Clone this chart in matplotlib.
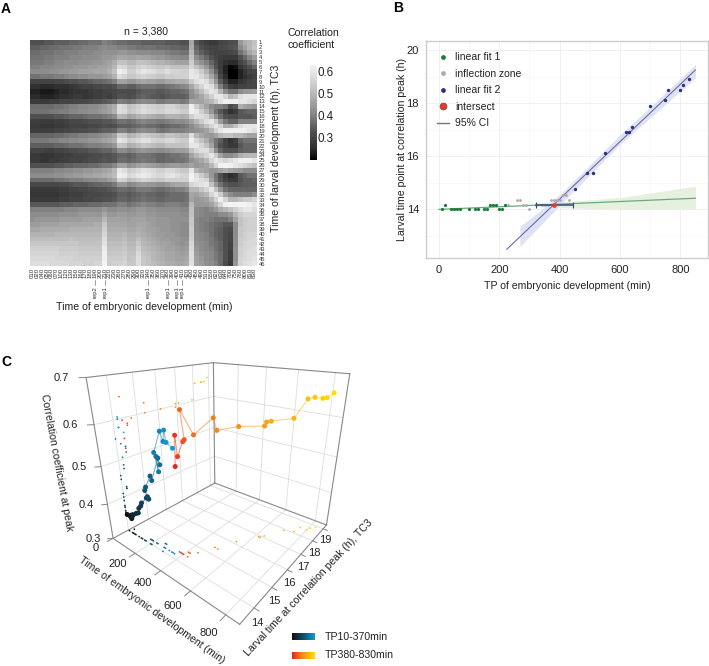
import matplotlib
matplotlib.use('Agg')
import matplotlib.pyplot as plt
from matplotlib.colors import LinearSegmentedColormap
from matplotlib.lines import Line2D
from mpl_toolkits.mplot3d import proj3d
import numpy as np

plt.rcParams['font.family'] = ['Liberation Sans', 'DejaVu Sans']

W, H = 709, 666

# time points shared by all panels
tp_early = [10, 20, 40, 50, 60, 70, 100, 120, 130, 150, 160, 170, 180, 190, 200, 210, 220,
            230, 260, 270, 280, 290, 300, 320, 340, 350, 360, 370]
tp_late = [380, 390, 400, 410, 420, 430, 450, 490, 510, 550, 620, 630, 640, 700, 750, 760,
           800, 810, 830]

# larval time at the correlation peak
peak_early = [14, 14.18, 14, 14, 14, 14, 14, 14, 14, 14, 14, 14.18, 14.18, 14.18, 14, 14, 14.18,
              14.18, 14.36, 14.36, 14.18, 14.18, 14, 14.18, 14.18, 14.18, 14.18, 14.36]
peak_late = [14.36, 14.36, 14.36, 14.55, 14.55, 14.36, 14.75, 15.36, 15.36, 16.13, 16.92, 16.92,
             17.1, 17.9, 18.1, 18.5, 18.5, 18.7, 18.9]

# correlation value at the peak
corr_early = [.35, .345, .35, .345, .355, .36, .37, .375, .39, .40, .41, .42, .425, .42, .45,
              .46, .485, .475, .53, .515, .54, .505, .555, .60, .58, .605, .58, .565]
corr_late = [.525, .595, .55, .58, .585, .65, .595, .625, .60, .60, .595, .605, .605, .605, .65,
             .65, .65, .65, .66]

# panel A, correlation in percent, larval rows by embryonic columns
heat = [
    [33,33,33,34,34,35,35,35,36,36,37,37,38,38,38,40,39,38,37,37,36,36,36,35,35,35,35,35,34,34,34,33,33,47,34,31,29,28,28,30,31,32,33,44,48,50,52],
    [35,35,36,36,37,37,38,38,38,39,39,40,40,40,41,42,41,41,40,40,39,39,38,38,38,38,37,37,37,36,36,35,35,48,36,33,31,30,30,31,32,33,34,42,46,50,53],
    [37,37,38,38,38,39,39,40,40,40,41,41,41,42,42,43,43,43,44,44,43,43,42,42,42,41,41,41,40,39,39,38,38,50,38,35,33,31,30,30,30,31,32,38,42,47,50],
    [38,38,38,39,39,40,40,40,41,41,41,42,42,42,43,44,44,45,47,47,46,46,47,46,46,45,44,44,43,42,42,41,41,52,42,39,36,33,31,29,28,28,28,33,37,41,45],
    [39,39,39,40,40,41,41,42,42,42,43,43,43,44,44,45,46,48,52,52,50,50,52,52,51,50,49,49,48,47,46,46,46,54,46,43,40,36,32,28,26,25,25,30,33,37,40],
    [40,40,41,41,41,42,42,43,43,44,44,44,45,45,46,46,47,50,57,56,53,53,55,56,55,54,53,53,54,52,52,52,52,56,52,48,44,39,33,28,24,21,22,27,30,33,36],
    [42,42,42,42,43,43,44,44,45,45,46,46,46,47,47,47,49,52,62,60,55,55,58,60,59,58,56,56,58,56,56,55,55,60,58,54,49,43,36,29,24,18,19,24,27,30,31],
    [38,38,39,39,39,40,40,41,42,42,43,43,44,44,44,45,46,49,58,56,53,53,55,56,55,54,53,53,55,54,55,55,55,60,60,57,53,47,40,31,25,19,20,24,26,28,30],
    [30,30,30,30,30,31,31,32,33,33,34,34,35,36,36,37,38,40,46,46,44,44,46,47,46,46,45,45,47,47,48,48,49,54,58,60,58,52,44,35,29,24,24,27,28,30,31],
    [26,26,25,25,25,26,26,26,27,28,29,30,30,31,31,32,32,33,36,36,35,35,37,38,38,38,37,37,38,39,40,41,42,47,52,56,60,58,50,40,34,29,28,30,30,31,31],
    [24,24,23,23,23,24,25,25,26,27,27,27,28,29,29,30,30,31,32,32,32,32,34,35,35,35,34,34,35,36,36,37,38,43,47,51,56,60,58,50,42,38,38,42,44,44,45],
    [25,25,24,24,24,25,26,26,27,28,28,27,28,29,29,30,29,31,33,33,32,33,35,36,35,34,34,33,34,35,35,35,36,42,44,47,51,55,60,60,56,50,52,58,60,60,60],
    [28,28,28,28,29,29,30,30,30,31,31,31,32,33,33,34,35,36,40,39,38,39,41,42,41,41,39,39,40,40,40,39,40,47,46,46,48,50,54,59,62,62,62,60,60,58,56],
    [37,37,37,37,37,38,38,39,40,40,41,41,42,42,43,44,46,48,58,56,52,53,55,57,56,55,54,54,56,56,54,52,52,62,55,50,46,42,40,40,38,32,34,48,46,45,44],
    [38,38,38,38,39,39,40,40,41,41,42,42,43,43,44,45,46,49,58,57,53,54,56,58,57,56,55,55,57,57,56,54,54,62,60,55,50,44,38,34,30,26,28,34,35,36,36],
    [33,33,33,33,33,34,34,35,36,36,36,37,38,38,38,39,40,42,50,49,46,47,49,50,49,48,47,47,49,49,49,48,49,55,58,58,56,50,43,37,33,32,32,34,34,34,35],
    [29,29,28,28,28,29,29,30,31,31,31,32,33,33,33,34,34,35,38,38,37,38,40,41,40,40,39,39,40,41,42,42,43,46,50,54,58,60,54,45,39,36,36,40,40,40,40],
    [28,28,27,27,27,28,28,29,30,30,30,30,31,31,32,33,32,33,35,35,35,36,37,38,37,37,36,35,36,37,37,38,39,42,45,48,52,56,60,56,48,48,52,58,60,60,60],
    [29,29,29,29,29,30,30,31,31,32,32,32,33,33,34,35,35,36,40,40,38,39,41,42,41,41,39,38,39,40,40,40,41,42,43,44,46,50,56,60,62,62,62,62,62,60,58],
    [36,36,36,36,36,37,37,38,39,39,40,40,41,41,42,43,44,46,54,53,49,50,52,54,53,52,51,50,52,52,51,50,50,58,50,47,45,44,46,50,52,52,50,50,48,46,46],
    [39,39,39,39,40,40,41,41,42,42,43,43,44,44,45,46,47,49,60,58,54,55,57,59,58,56,55,55,57,57,55,54,54,62,56,52,48,43,38,35,30,27,29,36,38,38,38],
    [35,35,35,35,35,36,36,37,38,38,38,39,40,40,40,41,42,44,53,52,48,49,51,53,52,51,50,50,52,52,52,52,53,60,60,56,52,46,38,33,30,28,28,34,36,36,36],
    [30,30,30,29,29,30,30,31,32,32,33,33,34,34,35,36,36,38,42,42,40,41,43,44,43,43,42,42,43,44,45,45,46,52,56,58,58,52,42,36,33,33,33,35,36,36,36],
    [28,28,27,27,27,28,28,29,29,30,30,30,31,32,32,33,33,34,36,36,35,36,38,38,38,37,36,36,37,38,38,39,40,46,50,53,56,60,54,46,42,42,44,48,50,50,50],
    [28,28,27,27,28,28,29,29,30,30,30,31,32,32,33,34,33,34,37,37,36,37,38,39,38,38,36,36,37,37,38,38,39,43,45,47,50,56,60,58,56,58,60,62,62,62,60],
    [33,33,33,33,33,34,34,35,35,36,36,36,37,37,38,39,39,41,46,46,43,44,46,47,46,45,44,43,44,45,45,44,44,46,44,45,46,50,56,62,64,62,60,58,56,54,52],
    [40,40,40,40,40,41,41,42,42,43,43,44,44,45,45,46,47,50,60,58,54,55,57,59,58,57,55,55,57,57,55,53,53,60,50,47,46,44,44,46,48,46,45,44,42,42,42],
    [42,42,42,42,42,43,43,44,44,45,45,46,46,47,47,48,49,51,62,61,57,58,60,61,60,58,57,57,59,60,58,56,56,64,58,54,50,44,38,33,28,25,27,34,36,38,38],
    [37,37,37,37,37,38,38,39,40,40,40,41,42,42,43,43,45,47,56,55,51,52,54,56,55,54,53,53,55,55,55,55,55,62,60,58,56,46,39,34,30,28,28,33,35,35,36],
    [31,31,31,31,31,31,32,32,33,34,34,34,35,36,36,37,37,39,44,44,41,42,44,45,44,44,43,43,44,46,47,47,48,56,58,59,60,52,44,38,34,33,33,34,35,35,35],
    [28,28,28,28,28,28,29,29,30,30,31,31,32,32,33,33,34,35,37,37,36,37,39,39,39,38,37,37,38,39,40,40,42,50,50,53,56,60,52,44,38,36,36,36,36,36,36],
    [27,27,27,27,27,27,28,28,29,29,29,30,31,31,31,32,32,33,35,35,34,35,36,37,36,36,35,35,36,37,37,37,38,47,46,48,50,56,60,54,46,42,40,40,40,40,42],
    [28,28,28,28,28,28,29,29,30,30,30,31,31,32,32,33,33,34,36,36,35,36,37,38,37,37,36,36,37,37,37,37,38,46,44,45,46,50,56,62,56,50,50,52,54,54,56],
    [34,34,34,34,34,34,35,35,35,36,36,36,37,37,37,38,38,38,40,40,38,39,40,41,40,40,39,39,40,40,40,39,39,50,44,44,44,46,50,56,62,64,64,64,64,62,60],
    [40,40,40,40,40,40,40,41,41,41,42,42,42,42,42,44,42,42,43,43,42,43,44,44,43,43,42,42,42,42,42,41,41,52,42,41,40,42,44,48,50,52,55,58,60,60,58],
    [42,42,42,42,42,42,43,43,43,43,44,44,44,44,44,47,44,44,45,45,44,44,45,45,44,44,43,43,43,43,43,42,42,52,42,41,40,40,40,42,42,44,50,54,56,56,56],
    [43,44,44,44,44,44,45,45,45,45,45,46,46,46,46,50,46,46,46,46,45,46,46,46,45,45,44,44,44,43,43,43,43,53,41,40,40,39,38,38,38,40,46,52,54,55,55],
    [45,45,46,46,46,46,47,47,47,47,47,47,47,48,48,53,47,47,47,47,46,46,47,47,46,45,44,44,44,43,43,42,42,53,41,40,39,38,37,36,34,34,42,52,54,55,55],
    [47,47,48,48,48,48,48,48,49,49,49,49,49,49,49,55,48,48,48,48,47,47,48,47,46,46,45,44,44,43,43,42,42,54,41,40,39,38,36,35,33,32,42,53,54,55,55],
    [49,49,49,49,49,50,50,50,50,50,50,50,50,50,50,56,49,49,49,50,48,48,49,48,47,46,45,45,44,44,43,42,42,54,42,41,40,38,36,35,33,31,42,53,55,56,56],
    [51,51,51,51,51,51,51,51,52,51,51,51,51,51,51,58,50,50,50,51,49,49,51,49,48,47,46,45,45,44,44,43,43,55,42,41,40,39,37,35,33,31,42,54,55,56,57],
    [53,53,53,53,53,53,53,53,53,53,52,52,52,52,52,59,51,51,51,52,50,50,53,50,49,48,47,46,46,45,44,43,44,56,43,42,41,39,38,36,33,30,42,54,56,57,57],
    [55,55,55,55,55,55,54,54,54,54,53,53,53,53,53,61,52,52,52,53,51,51,55,51,50,49,48,47,46,46,45,44,45,57,44,42,41,40,38,36,33,30,43,55,56,57,58],
    [56,56,56,56,56,56,55,55,55,55,54,54,54,54,54,62,53,53,53,54,52,52,57,52,51,50,49,48,47,47,46,45,46,58,45,43,42,41,39,37,33,29,43,55,57,58,58],
    [57,57,57,57,57,56,56,56,56,55,55,55,55,55,55,62,54,54,54,55,52,53,58,53,52,50,49,48,47,47,46,46,47,58,46,44,42,41,39,37,33,29,43,56,57,58,59],
    [58,58,58,58,57,57,57,57,56,56,56,55,55,56,56,63,54,55,55,56,53,53,58,53,52,51,50,49,48,48,47,47,48,59,46,45,43,42,40,37,32,28,44,56,58,59,60],
]
rep_cols = [13, 15, 24, 28, 30, 31]
rep_names = ['rep2', 'rep1', 'rep1', 'rep1', 'rep1', 'rep1']

# panel B fits and confidence bands
fit1_x = [0, 850]
fit1_y = [14.0, 14.42]
fit2_x = [225, 850]
fit2_y = [12.5, 19.25]
band1_x = [320, 440, 600, 850]
band1_lo = [14.1, 14.05, 14.0, 14.0]
band1_hi = [14.25, 14.3, 14.45, 14.87]
band2_x = [268, 400, 600, 850]
band2_lo = [12.6, 14.15, 16.45, 18.95]
band2_hi = [13.35, 14.55, 16.8, 19.45]
intersect = (380, 14.18)
ci_x = [320, 445]


def axes_px(x0, y0, x1, y1, **kw):
    # pixel box of the reference, y going down
    return fig.add_axes([x0 / W, 1 - y1 / H, (x1 - x0) / W, (y1 - y0) / H], **kw)


def text_px(x, y, s, **kw):
    return fig.text(x / W, 1 - y / H, s, **kw)


def label_3d(ax, x, y, z, s):
    # plain 2d text at the projected spot of a 3d point
    px, py, _ = proj3d.proj_transform(x, y, z, ax.get_proj())
    ax.text2D(px, py, s, transform=ax.transData, fontsize=8, ha='center', va='center', color='#222222')


fig = plt.figure(figsize=(W / 100, H / 100), dpi=100)

text_px(1, 9, 'A', fontsize=10, fontweight='bold', va='center')
text_px(393, 8, 'B', fontsize=10, fontweight='bold', va='center')
text_px(1, 362, 'C', fontsize=10, fontweight='bold', va='center')

# ---- panel A
heat_cmap = LinearSegmentedColormap.from_list('heat', [(0, '#000000'), (0.12, '#2e2e2e'), (0.3, '#505050'),
                                                       (0.5, '#8a8a8a'), (0.75, '#c4c4c4'), (1, '#f4f4f4')])
ax = axes_px(30, 40, 257, 266)
corr = np.array(heat) / 100
im = ax.imshow(corr, cmap=heat_cmap, vmin=0.2, vmax=0.63, aspect='auto', interpolation='nearest')
ax.set_xticks(range(corr.shape[1]))
ax.set_xticklabels(['%03d' % t for t in tp_early + tp_late], rotation=90, fontsize=4.4)
ax.set_yticks(range(corr.shape[0]))
ax.set_yticklabels([str(i + 1) for i in range(corr.shape[0])], fontsize=4.2)
ax.yaxis.tick_right()
ax.tick_params(length=0, pad=1, colors='#333333')
for s in ax.spines.values():
    s.set_visible(False)
for col, name in zip(rep_cols, rep_names):
    ax.plot([col, col], [-0.062, -0.084], color='#555555', lw=0.4,
            transform=ax.get_xaxis_transform(), clip_on=False)
    ax.text(col, -0.088, name, rotation=90, fontsize=4.2, ha='center', va='top',
            transform=ax.get_xaxis_transform(), color='#333333')
ax.set_xlim(-0.5, corr.shape[1] - 0.5)
ax.set_ylim(corr.shape[0] - 0.5, -0.5)

text_px(146, 31, 'n = 3,380', fontsize=7.6, ha='center', va='center', color='#222222')
text_px(144, 307, 'Time of embryonic development (min)', fontsize=7.6, ha='center', va='center',
        color='#222222')
text_px(276, 148, 'Time of larval development (h), TC3', fontsize=7.6, rotation=90, ha='center',
        va='center', color='#222222')
text_px(288, 39, 'Correlation\ncoefficient', fontsize=7.6, ha='left', va='center', color='#222222',
        linespacing=1.25)

cax = axes_px(310, 65, 316.5, 160)
cb = fig.colorbar(im, cax=cax)
cb.set_ticks([0.3, 0.4, 0.5, 0.6])
cb.ax.tick_params(length=0, labelsize=8.4, pad=1, labelcolor='#222222')
cb.outline.set_visible(False)

# ---- panel B
ax = axes_px(426, 40.7, 708.3, 258)
ax.fill_between(band1_x, band1_lo, band1_hi, color='#e6f0de', lw=0, zorder=1)
ax.fill_between(band2_x, band2_lo, band2_hi, color='#dfe2f2', lw=0, zorder=1.1)
ax.plot(fit1_x, fit1_y, color='#6fa97a', lw=0.9, zorder=2)
ax.plot(fit2_x, fit2_y, color='#6b6ca6', lw=0.8, zorder=2)

green_n = 17
inflect_n = 28 + 6 - green_n
tp_all = tp_early + tp_late
peak_all = peak_early + peak_late
ax.plot(tp_all[:green_n], peak_all[:green_n], ls='', marker='o', ms=1.3, color='#1c7a3e', zorder=3)
ax.plot(tp_all[green_n:green_n + inflect_n], peak_all[green_n:green_n + inflect_n], ls='', marker='o',
        ms=1.0, color='#aaaaaa', zorder=3)
ax.plot(tp_all[green_n + inflect_n:], peak_all[green_n + inflect_n:], ls='', marker='o', ms=1.4,
        color='#2b2f80', zorder=3)
ax.plot(ci_x, [intersect[1]] * 2, color='#2f4a8c', lw=1.1, zorder=4)
ax.plot(ci_x, [intersect[1]] * 2, ls='', marker='|', ms=4, mew=0.8, color='#2f4a8c', zorder=4)
ax.plot(*intersect, marker='o', ms=2.4, color='#e8392a', zorder=5)

ax.set_xlim(-43, 892.6)
ax.set_ylim(12.17, 20.35)
ax.set_xticks([0, 200, 400, 600, 800])
ax.set_yticks([14, 16, 18, 20])
ax.set_xticks([100, 300, 500, 700], minor=True)
ax.set_yticks([13, 15, 17, 19], minor=True)
ax.grid(True, which='major', color='#eeeeee', lw=0.6)
ax.grid(True, which='minor', color='#f5f5f5', lw=0.4)
ax.set_axisbelow(True)
ax.tick_params(which='both', length=0, labelsize=8, pad=5, labelcolor='#222222')
for s in ax.spines.values():
    s.set_color('#cccccc')
    s.set_linewidth(1.0)
ax.set_xlabel('TP of embryonic development (min)', fontsize=7.6, labelpad=4.5, color='#222222')
ax.set_ylabel('Larval time point at correlation peak (h)', fontsize=7.6, labelpad=0, color='#222222')
handles = [
    Line2D([], [], ls='', marker='o', ms=2.4, color='#1c7a3e'),
    Line2D([], [], ls='', marker='o', ms=2.4, color='#aaaaaa'),
    Line2D([], [], ls='', marker='o', ms=2.4, color='#2b2f80'),
    Line2D([], [], ls='', marker='o', ms=5, mfc='#e8392a', mec='#555555', mew=0.5),
    Line2D([], [], color='#777777', lw=1),
]
ax.legend(handles, ['linear fit 1', 'inflection zone', 'linear fit 2', 'intersect', '95% CI'],
          loc='upper left', bbox_to_anchor=(0.025, 0.965), frameon=False, fontsize=7.5, labelspacing=0.62,
          handlelength=1.1, handletextpad=0.6, borderaxespad=0, labelcolor='#222222')

# ---- panel C
x_lim = (0, 870)
y_lim = (13.3, 19.35)
z_lim = (0.3, 0.7)
x_ticks = [0, 200, 400, 600, 800]
y_ticks = [14, 15, 16, 17, 18, 19]
z_ticks = [0.3, 0.4, 0.5, 0.6, 0.7]

ax = axes_px(59, 306, 379, 626, projection='3d', computed_zorder=False)
ax.set_proj_type('persp', focal_length=0.18)
ax.view_init(elev=23, azim=-51)
ax.set_box_aspect((1, 1, 1.0), zoom=0.88)
ax.set_axis_off()
ax.patch.set_alpha(0)
ax.set_xlim(*x_lim)
ax.set_ylim(*y_lim)
ax.set_zlim(*z_lim)

grid_c = '#dddddd'
edge_c = '#888888'
for t in x_ticks[1:]:
    ax.plot([t, t], y_lim, [z_lim[0]] * 2, color=grid_c, lw=0.6)
    ax.plot([t, t], [y_lim[1]] * 2, z_lim, color=grid_c, lw=0.6)
for t in y_ticks:
    ax.plot(x_lim, [t, t], [z_lim[0]] * 2, color=grid_c, lw=0.6)
    ax.plot([0, 0], [t, t], z_lim, color=grid_c, lw=0.6)
for t in z_ticks[1:-1]:
    ax.plot([0, 0], y_lim, [t, t], color=grid_c, lw=0.6)
    ax.plot(x_lim, [y_lim[1]] * 2, [t, t], color=grid_c, lw=0.6)

# box edges
ax.plot(x_lim, [y_lim[0]] * 2, [z_lim[0]] * 2, color=edge_c, lw=0.8)
ax.plot([x_lim[1]] * 2, y_lim, [z_lim[0]] * 2, color=edge_c, lw=0.8)
ax.plot([0, 0], y_lim, [z_lim[0]] * 2, color=edge_c, lw=0.8)
ax.plot(x_lim, [y_lim[1]] * 2, [z_lim[0]] * 2, color=edge_c, lw=0.8)
ax.plot([0, 0], [y_lim[0]] * 2, z_lim, color=edge_c, lw=0.8)
ax.plot([0, 0], [y_lim[1]] * 2, z_lim, color=edge_c, lw=0.8)
ax.plot([x_lim[1]] * 2, [y_lim[1]] * 2, z_lim, color=edge_c, lw=0.8)
ax.plot([0, 0], y_lim, [z_lim[1]] * 2, color=edge_c, lw=0.8)
ax.plot(x_lim, [y_lim[1]] * 2, [z_lim[1]] * 2, color=edge_c, lw=0.8)

# tick marks and their labels
for t in x_ticks:
    ax.plot([t, t], [y_lim[0], y_lim[0] - 0.25], [z_lim[0]] * 2, color=edge_c, lw=0.7)
    label_3d(ax, t, y_lim[0] - 0.72, z_lim[0], str(t))
for t in y_ticks:
    ax.plot([x_lim[1], x_lim[1] + 25], [t, t], [z_lim[0]] * 2, color=edge_c, lw=0.7)
    label_3d(ax, x_lim[1] + 20, t, z_lim[0] - 0.032, str(t))
for t in z_ticks:
    ax.plot([0, -20], [y_lim[0], y_lim[0] - 0.15], [t, t], color=edge_c, lw=0.7)
    label_3d(ax, -80, y_lim[0] - 0.5, t, '%.1f' % t)

cmap_early = LinearSegmentedColormap.from_list('early', ['#111111', '#0f4f6e', '#129bd1'])
cmap_late = LinearSegmentedColormap.from_list('late', ['#e8261f', '#f7931e', '#ffdf00'])

for tp, peak, cz, cmap, in [(tp_early, peak_early, corr_early, cmap_early),
                            (tp_late, peak_late, corr_late, cmap_late)]:
    cols = [cmap(i / (len(tp) - 1)) for i in range(len(tp))]
    for i in range(len(tp) - 1):
        ax.plot(tp[i:i + 2], peak[i:i + 2], cz[i:i + 2], color=cols[i + 1], lw=0.8, alpha=0.55, zorder=4)
    ax.scatter(tp, peak, cz, c=cols, s=13, lw=0, depthshade=False, zorder=5)
    # shadows on the floor and on the left wall
    ax.scatter(tp, peak, [z_lim[0]] * len(tp), c=cols, s=1.6, lw=0, depthshade=False, zorder=3)
    ax.scatter([0] * len(tp), peak, cz, c=cols, s=1.6, lw=0, depthshade=False, zorder=3)

text_px(57, 463, 'Correlation coefficient at peak', fontsize=7.6, rotation=-79.5, ha='center',
        va='center', rotation_mode='anchor', color='#222222')
text_px(152, 610, 'Time of embryonic development (min)', fontsize=7.6, rotation=-35.5, ha='center',
        va='center', rotation_mode='anchor', color='#222222')
text_px(309, 588, 'Larval time at correlation peak (h), TC3', fontsize=7.6, rotation=47, ha='center',
        va='center', rotation_mode='anchor', color='#222222')

# gradient keys
ramp = np.linspace(0, 1, 64).reshape(1, -1)
for y0, cmap, label in [(633, cmap_early, 'TP10-370min'), (652, cmap_late, 'TP380-830min')]:
    kax = axes_px(292, y0, 315, y0 + 7)
    kax.imshow(ramp, cmap=cmap, aspect='auto')
    kax.axis('off')
    text_px(325, y0 + 3.5, label, fontsize=7.6, va='center', color='#222222')

fig.savefig('out.png', dpi=100)
